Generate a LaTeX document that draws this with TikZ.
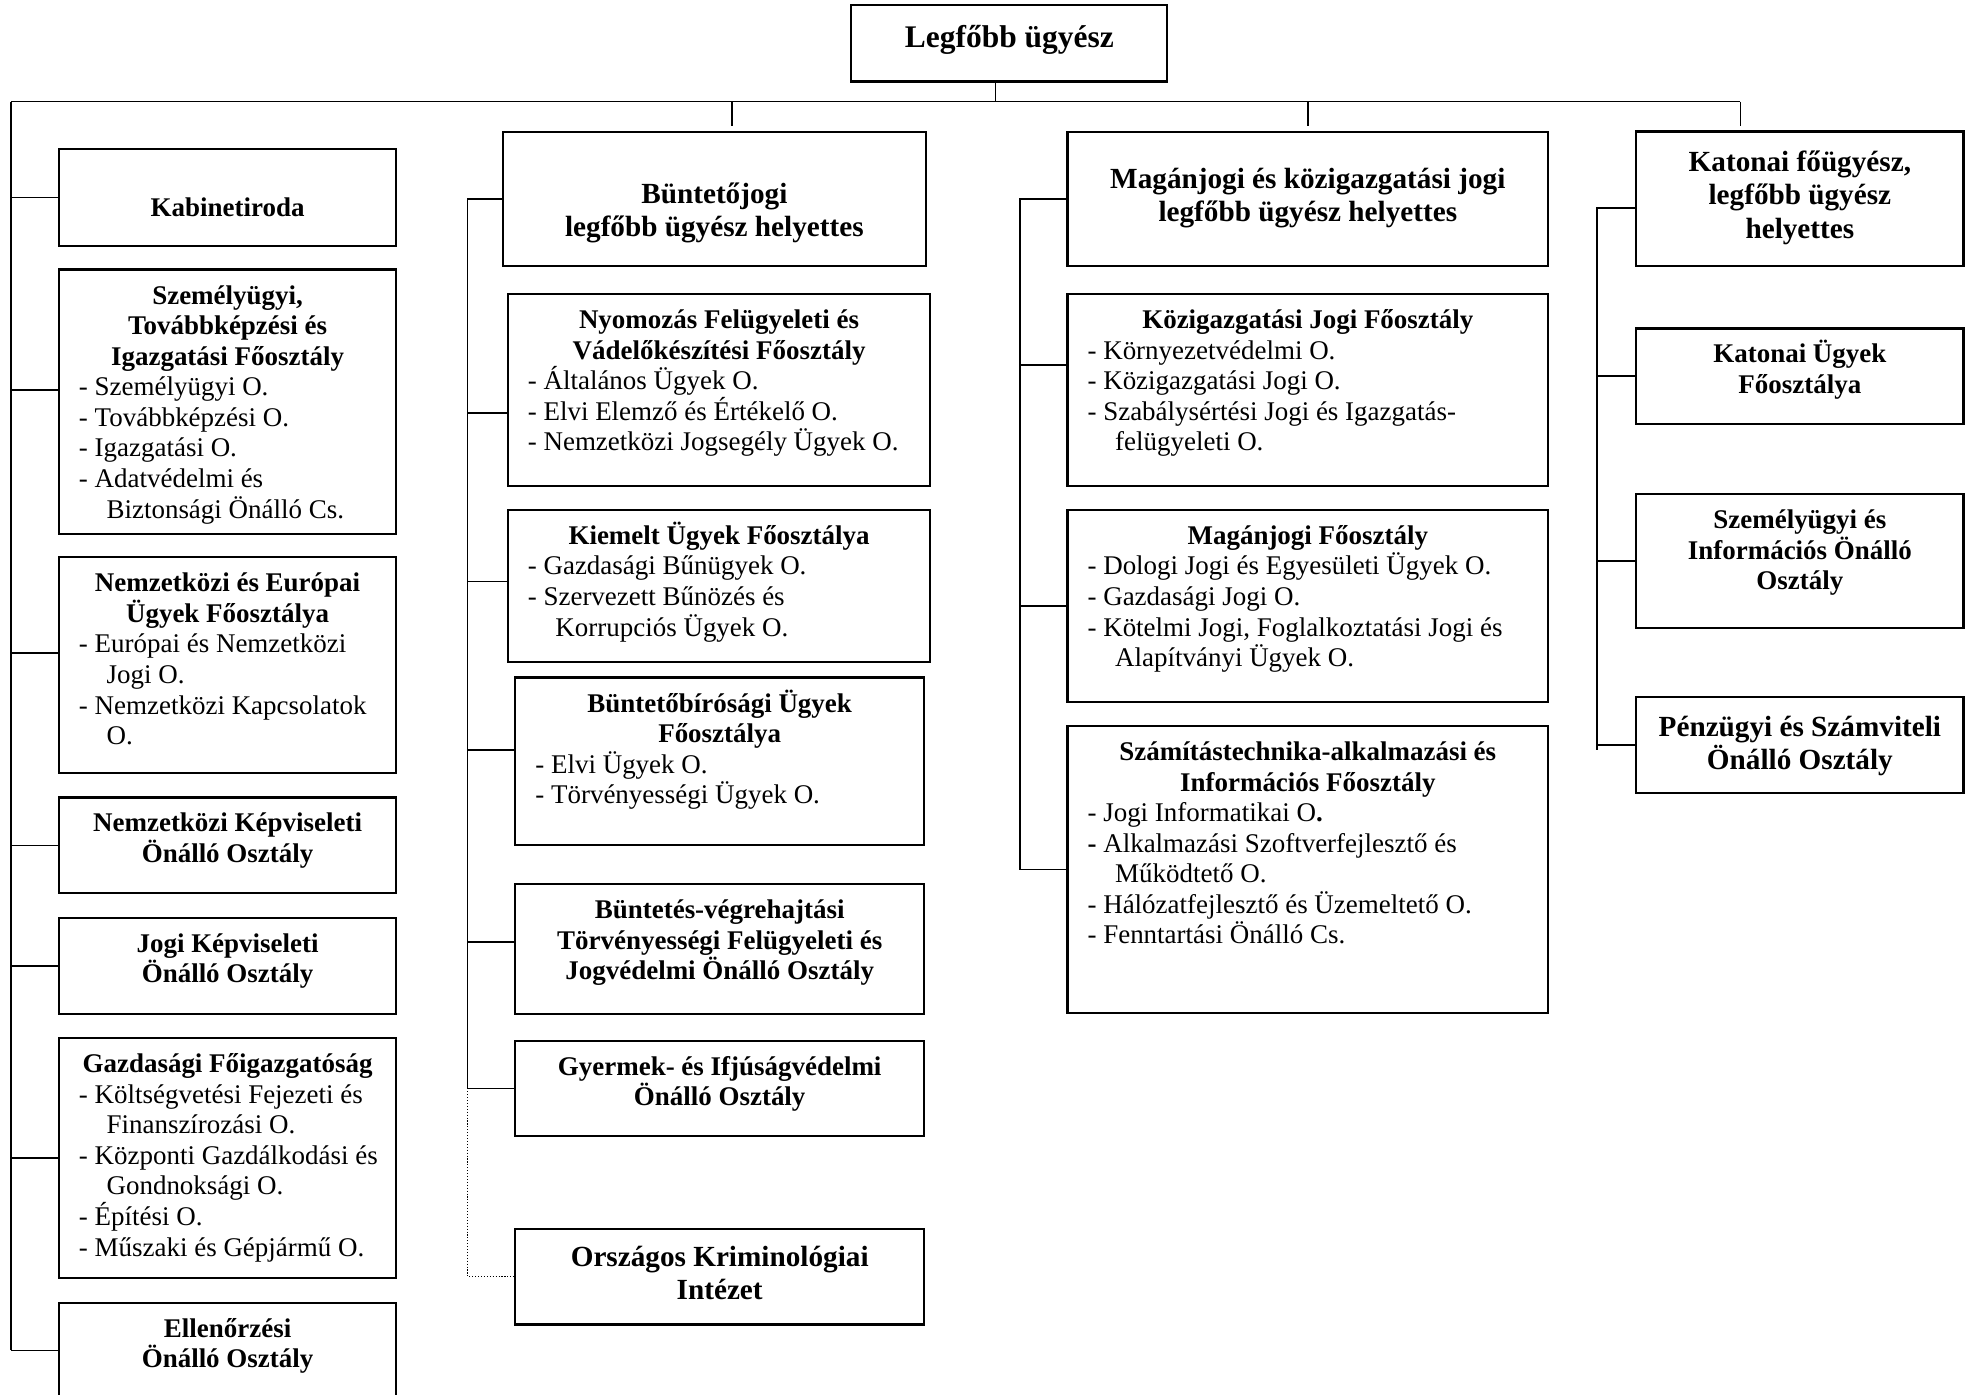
\documentclass[tikz,border=0pt]{standalone}
\usepackage{fontspec}
\setmainfont{Liberation Serif}
\usepackage{tikz}

\newlength{\pxu}
\setlength{\pxu}{0.0196cm}
\newcommand{\orgbox}[4]{\parbox[c][#2\pxu][t]{#1\pxu}{\rule{0pt}{#3\pxu}#4}}
\newcommand{\orgtitle}[1]{{\bfseries\centering #1\par}}
\newcommand{\orglist}{\raggedright\leftskip=16\pxu\relax}
\newcommand{\orgcont}{\hspace*{22\pxu}}

\begin{document}
\begin{tikzpicture}[x=0.0196cm,y=-0.0196cm,
    orgunit/.style={draw,line width=1pt,inner sep=0pt,outer sep=0pt,anchor=north west,font=\fontsize{12}{13.6}\selectfont},
    headbox/.style={orgunit,font=\fontsize{13}{14.8}\selectfont},
    orgline/.style={line width=0.7pt}]
    \useasboundingbox (0,0) rectangle (1568,1111.8);
    \clip (0,0) rectangle (1568,1111.8);

    \node [orgunit,font=\fontsize{14}{16}\selectfont] (chief) at (679,4) {\orgbox{252}{61}{34}{\orgtitle{Legfőbb ügyész}}};

    \node [orgunit] (kabinet) at (47,119) {\orgbox{269}{77}{54}{\orgtitle{Kabinetiroda}}};
    \node [orgunit] (szemely) at (47,215) {\orgbox{269}{211}{27.5}{%
        \orgtitle{Személyügyi,\\ Továbbképzési és\\ Igazgatási Főosztály}
        \orglist - Személyügyi O.\\ - Továbbképzési O.\\ - Igazgatási O.\\ - Adatvédelmi és\\ \orgcont Biztonsági Önálló Cs.}};
    \node [orgunit] (nemzeur) at (47,444.5) {\orgbox{269}{172}{27.5}{%
        \orgtitle{Nemzetközi és Európai\\ Ügyek Főosztálya}
        \orglist - Európai és Nemzetközi\\ \orgcont Jogi O.\\ - Nemzetközi Kapcsolatok\\ \orgcont O.}};
    \node [orgunit] (nemzkep) at (47,636) {\orgbox{269}{76.5}{27.5}{\orgtitle{Nemzetközi Képviseleti\\ Önálló Osztály}}};
    \node [orgunit] (jogikep) at (47,732) {\orgbox{269}{76.5}{27.5}{\orgtitle{Jogi Képviseleti\\ Önálló Osztály}}};
    \node [orgunit] (gazd) at (47,828) {\orgbox{269}{191}{27.5}{%
        \orgtitle{Gazdasági Főigazgatóság}
        \orglist - Költségvetési Fejezeti és\\ \orgcont Finanszírozási O.\\ - Központi Gazdálkodási és\\ \orgcont Gondnoksági O.\\ - Építési O.\\ - Műszaki és Gépjármű O.}};
    \node [orgunit] (ellen) at (47,1039) {\orgbox{269}{76}{27.5}{\orgtitle{Ellenőrzési\\ Önálló Osztály}}};

    \node [headbox] (crimhead) at (401,105) {\orgbox{337.5}{107}{57}{\orgtitle{Büntetőjogi\\ legfőbb ügyész helyettes}}};
    \node [orgunit] (nyomozas) at (405,234.5) {\orgbox{337}{153}{27.5}{%
        \orgtitle{Nyomozás Felügyeleti és\\ Vádelőkészítési Főosztály}
        \orglist - Általános Ügyek O.\\ - Elvi Elemző és Értékelő O.\\ - Nemzetközi Jogsegély Ügyek O.}};
    \node [orgunit] (kiemelt) at (405,406.7) {\orgbox{337}{121.5}{27.5}{%
        \orgtitle{Kiemelt Ügyek Főosztálya}
        \orglist - Gazdasági Bűnügyek O.\\ - Szervezett Bűnözés és\\ \orgcont Korrupciós Ügyek O.}};
    \node [orgunit] (buntbir) at (411,540.4) {\orgbox{326}{133.6}{27.5}{%
        \orgtitle{Büntetőbírósági Ügyek\\ Főosztálya}
        \orglist - Elvi Ügyek O.\\ - Törvényességi Ügyek O.}};
    \node [orgunit] (buntveg) at (411,705) {\orgbox{326}{103.8}{27.5}{\orgtitle{Büntetés-végrehajtási\\ Törvényességi Felügyeleti és\\ Jogvédelmi Önálló Osztály}}};
    \node [orgunit] (gyermek) at (411,830) {\orgbox{326}{76}{27.5}{\orgtitle{Gyermek- és Ifjúságvédelmi\\ Önálló Osztály}}};
    \node [headbox] (okri) at (411,980) {\orgbox{326}{76.3}{30}{\orgtitle{Országos Kriminológiai\\ Intézet}}};

    \node [headbox] (civhead) at (851.4,105) {\orgbox{383.3}{107}{45}{\orgtitle{Magánjogi és közigazgatási jogi\\ legfőbb ügyész helyettes}}};
    \node [orgunit] (kozig) at (851.4,234.5) {\orgbox{383.3}{153}{27.5}{%
        \orgtitle{Közigazgatási Jogi Főosztály}
        \orglist - Környezetvédelmi O.\\ - Közigazgatási Jogi O.\\ - Szabálysértési Jogi és Igazgatás-\\ \orgcont felügyeleti O.}};
    \node [orgunit] (maganjog) at (851.4,406.7) {\orgbox{383.3}{153}{27.5}{%
        \orgtitle{Magánjogi Főosztály}
        \orglist - Dologi Jogi és Egyesületi Ügyek O.\\ - Gazdasági Jogi O.\\ - Kötelmi Jogi, Foglalkoztatási Jogi és\\ \orgcont Alapítványi Ügyek O.}};
    \node [orgunit] (szamtech) at (851.4,579) {\orgbox{383.3}{229.2}{27.5}{%
        \orgtitle{Számítástechnika-alkalmazási és\\ Információs Főosztály}
        \orglist - Jogi Informatikai O\textbf{.}\\ \textbf{-} Alkalmazási Szoftverfejlesztő és\\ \orgcont Működtető O.\\ - Hálózatfejlesztő és Üzemeltető O.\\ - Fenntartási Önálló Cs.}};

    \node [headbox] (milhead) at (1305,104.8) {\orgbox{261}{107.4}{32}{\orgtitle{Katonai főügyész,\\ legfőbb ügyész\\ helyettes}}};
    \node [orgunit] (katugy) at (1305,262) {\orgbox{261}{76}{27.5}{\orgtitle{Katonai Ügyek\\ Főosztálya}}};
    \node [orgunit] (szemelyinf) at (1305,394) {\orgbox{261}{106.6}{27.5}{\orgtitle{Személyügyi és\\ Információs Önálló\\ Osztály}}};
    \node [headbox] (penzugy) at (1305,556) {\orgbox{261}{76.7}{31}{\orgtitle{Pénzügyi és Számviteli\\ Önálló Osztály}}};

    \begin{scope}[orgline]
    \coordinate (busL) at (9,81);
    \coordinate (busR) at (1388,81);
    \coordinate (chiefjoin) at (794,81);
    \coordinate (dropB) at (584,81);
    \coordinate (dropC) at (1043,81);
    \draw (chief.south -| chiefjoin) -- (chiefjoin);
    \draw (busL) -- (busR);
    \foreach \j in {dropB,dropC,busR}{
        \draw (\j) -- ++(0,19.5);
    }
    \draw (busL) -- (busL |- ellen.west);
    \foreach \n/\s in {kabinet/0,szemely/5.2,nemzeur/5.3,nemzkep/0,jogikep/0,gazd/0,ellen/0}{
        \draw ([yshift=\s pt]\n.west) -- ++(-38,0);
    }
    \draw (crimhead.west) -- ++(-28,0) coordinate (spineB) -- (spineB |- gyermek.west) -- (gyermek.west);
    \foreach \n/\s/\d in {nyomozas/-10.3/32,kiemelt/2.1/32,buntbir/5/38,buntveg/3.2/38}{
        \draw ([yshift=\s pt]\n.west) -- ++(-\d,0);
    }
    \draw [line width=0.5pt,dash pattern=on 0.5pt off 0.8pt] (spineB |- gyermek.west) -- (spineB |- okri.west) -- (okri.west);
    \draw (civhead.west) -- ++(-38,0) coordinate (spineC) -- (spineC |- szamtech.west) -- (szamtech.west);
    \draw ([yshift=11pt]kozig.west) -- ++(-38,0);
    \draw (maganjog.west) -- ++(-38,0);
    \draw ([yshift=-4.1pt]milhead.west) -- ++(-31.5,0) coordinate (spineD) -- ++(0,432);
    \foreach \n in {katugy,szemelyinf,penzugy}{
        \draw (\n.west) -- ++(-31.5,0);
    }
    \end{scope}
\end{tikzpicture}
\end{document}
